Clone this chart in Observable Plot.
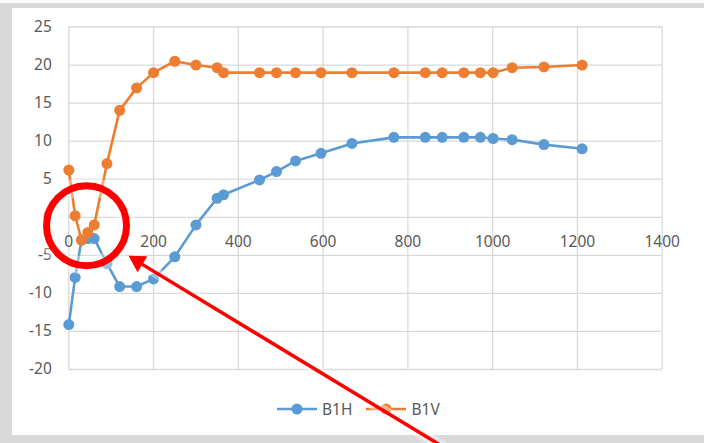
<!DOCTYPE html>
<html><head><meta charset="utf-8">
<script src="https://cdn.jsdelivr.net/npm/d3@7"></script>
<script src="https://cdn.jsdelivr.net/npm/@observablehq/plot@0.6"></script>
<style>
body{margin:0;background:#fff;}
#wrap{position:relative;width:704px;height:443px;background:#fff;overflow:hidden;font-family:"Noto Sans",sans-serif;}
#frame{position:absolute;left:0;top:3px;width:704px;height:440px;background:#d9d9d9;}
#inner{position:absolute;left:12px;top:8px;width:692px;height:427px;background:#fff;}
#legend{position:absolute;top:398px;left:277px;display:flex;align-items:center;gap:14px;font-size:15.5px;color:#595959;}
.item{display:flex;align-items:center;gap:5px;}
#chart{position:absolute;left:0;top:0;}
</style></head>
<body>
<div id="wrap"><div id="frame"></div><div id="inner"></div><div id="legend"></div><div id="chart"></div></div>
<script>
const xs   = [0, 15, 30, 45, 60, 90, 120, 160, 200, 250, 300, 350, 365, 450, 490, 535, 595, 668, 767, 841, 881, 932, 971, 1001, 1046, 1121, 1211];
const b1h  = [-14.1, -7.9, -3.0, -2.8, -2.8, -6.1, -9.1, -9.1, -8.1, -5.2, -1.0, 2.5, 2.95, 4.9, 6.0, 7.4, 8.4, 9.7, 10.5, 10.5, 10.5, 10.5, 10.5, 10.35, 10.2, 9.55, 9.0];
const b1v  = [6.2, 0.2, -3.0, -2.0, -1.0, 7.05, 14.05, 17.0, 19.0, 20.5, 20.0, 19.65, 19.0, 19.0, 19.0, 19.0, 19.0, 19.0, 19.0, 19.0, 19.0, 19.0, 19.0, 19.0, 19.65, 19.75, 20.0];
const seriesNames  = ["B1H", "B1V"];
const seriesColors = ["#5b9bd5", "#ed7d31"];
const xTicks = [0, 200, 400, 600, 800, 1000, 1200, 1400];
const yTicks = [-20, -15, -10, -5, 0, 5, 10, 15, 20, 25];
// annotation (red circle and arrow), in data units
const annCircle = [{x: 41.8, y: -1.1}];
const annArrow  = [{x1: 917, y1: -31.3, x2: 150, y2: -5.4}];
const annHead   = [{x: 162.8, y: -5.8}];

const data = [];
xs.forEach((x, i) => {
  data.push({x, y: b1h[i], s: seriesNames[0]});
  data.push({x, y: b1v[i], s: seriesNames[1]});
});

const seriesMarks = seriesNames.flatMap((name, k) => {
  const d = data.filter(p => p.s === name);
  return [
    Plot.line(d, {x: "x", y: "y", stroke: seriesColors[k], strokeWidth: 2.6}),
    Plot.dot(d, {x: "x", y: "y", fill: seriesColors[k], r: 5.5})
  ];
});

const grid = {stroke: "#d9d9d9", strokeOpacity: 1, strokeWidth: 1.3};
const chart = Plot.plot({
  width: 704, height: 443,
  marginLeft: 68.3, marginRight: 42.3, marginTop: 26.5, marginBottom: 74,
  x: {domain: [0, 1400], axis: null},
  y: {domain: [-20, 25], axis: null},
  style: {background: "transparent", fontFamily: "Noto Sans", fontSize: "15.5px", color: "#595959"},
  marks: [
    Plot.gridX(xTicks, grid),
    Plot.gridY(yTicks, grid),
    Plot.text(yTicks, {x: 0, y: d => d, text: d => String(d), textAnchor: "end", dx: -17, fill: "#595959", fontSize: 15.5}),
    Plot.text(xTicks, {x: d => d, y: 0, text: d => String(d), dy: 25, fill: "#595959", fontSize: 15.5}),
    ...seriesMarks,
    Plot.dot(annCircle, {x: "x", y: "y", r: 40, stroke: "white", strokeWidth: 18, strokeOpacity: 0.35, fill: "none"}),
    Plot.link(annArrow, {x1: "x1", y1: "y1", x2: "x2", y2: "y2", stroke: "white", strokeWidth: 11, strokeOpacity: 0.4}),
    Plot.dot(annCircle, {x: "x", y: "y", r: 40, stroke: "#ff0000", strokeWidth: 7, fill: "none"}),
    Plot.link(annArrow, {x1: "x1", y1: "y1", x2: "x2", y2: "y2", stroke: "#ff0000", strokeWidth: 3.5}),
    Plot.dot(annHead, {x: "x", y: "y", symbol: "triangle", r: 7, fill: "#ff0000", rotate: -58.7})
  ]
});
document.getElementById("chart").appendChild(chart);

const legend = document.getElementById("legend");
seriesNames.forEach((name, k) => {
  const item = document.createElement("div");
  item.className = "item";
  item.innerHTML = `<svg width="40" height="14"><line x1="0" y1="7" x2="40" y2="7" stroke="${seriesColors[k]}" stroke-width="2.6"/><circle cx="20" cy="7" r="5.5" fill="${seriesColors[k]}"/></svg><span>${name}</span>`;
  legend.appendChild(item);
});
</script>
</body></html>
